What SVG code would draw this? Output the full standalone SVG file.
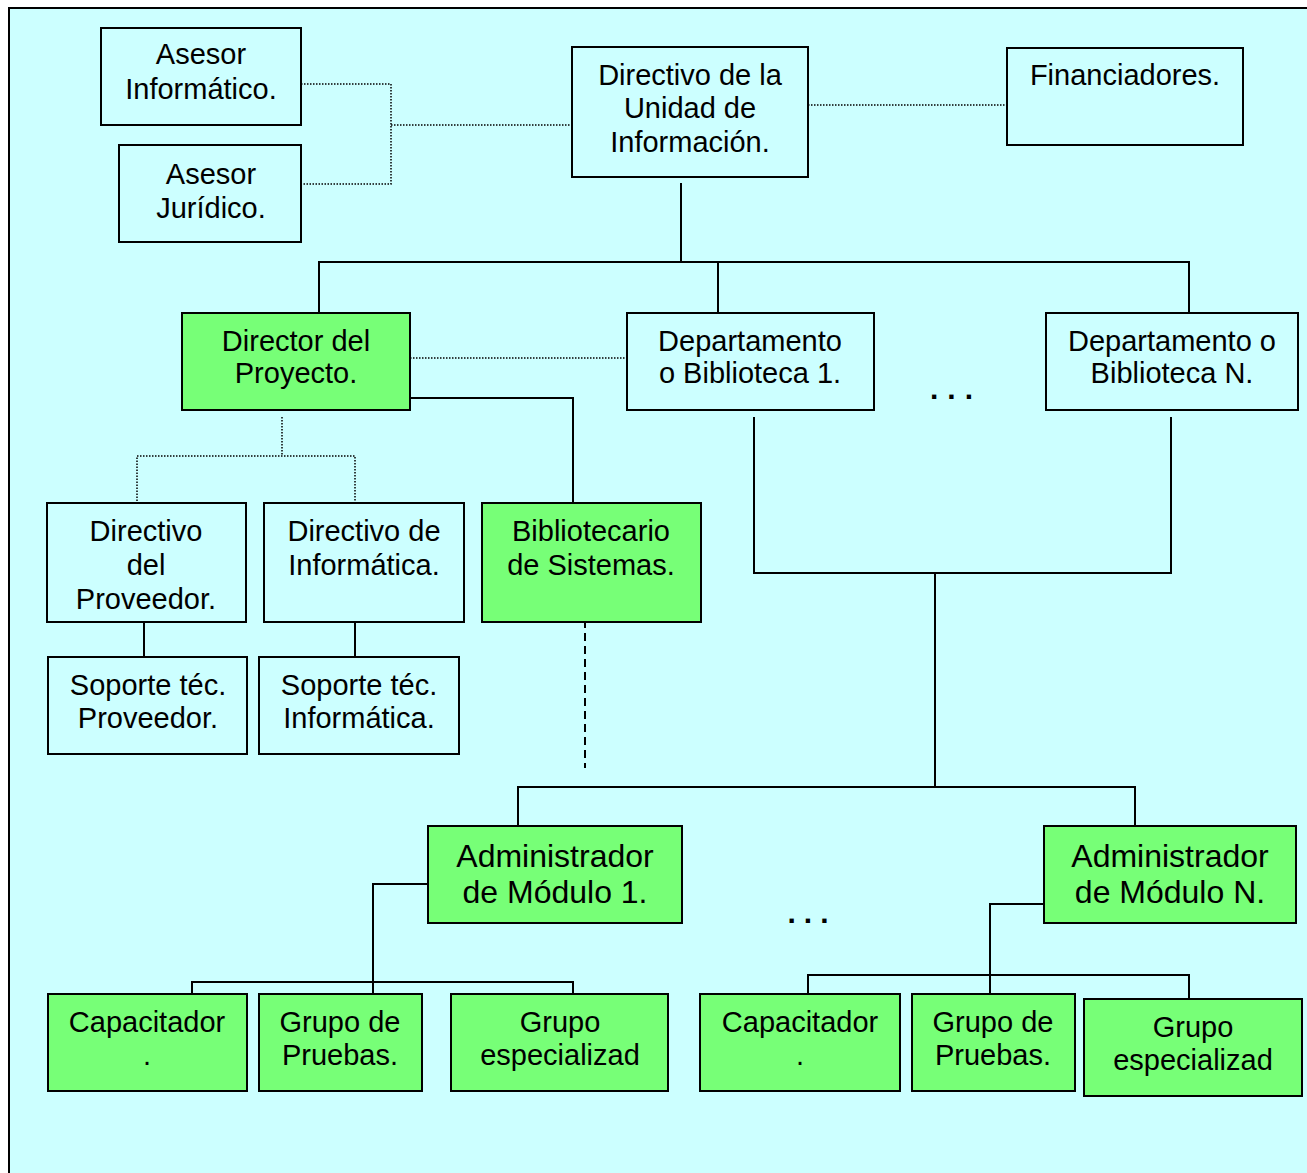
<svg xmlns="http://www.w3.org/2000/svg" width="1307" height="1173" viewBox="0 0 1307 1173">
  <style>
    .box { fill: #CCFFFF; stroke: #000; stroke-width: 2; }
    .green { fill: #77FF77; stroke: #000; stroke-width: 2; }
    .t { font-family: "Liberation Sans", Arial, sans-serif; font-size: 29px; fill: #000; text-anchor: middle; }
    .big { font-size: 32px; }
    .ell { font-size: 30px; font-weight: bold; }
    .solid { fill: none; stroke: #000; stroke-width: 2; }
    .dot { fill: none; stroke: #000; stroke-width: 1.5; stroke-dasharray: 1.5 1.5; }
    .dash { fill: none; stroke: #000; stroke-width: 2; stroke-dasharray: 8 5; }
  </style>

  <rect x="0" y="0" width="1307" height="1173" fill="#FFFFFF"/>
  <rect x="9" y="8" width="1310" height="1180" fill="#CCFFFF" stroke="#000" stroke-width="2"/>

  <!-- connectors -->
  <g id="connectors">
    <!-- advisors to unit directive -->
    <path class="dot" d="M301 84 H391 V184 H302"/>
    <path class="dot" d="M391 125 H572"/>
    <path class="dot" d="M808 105 H1007"/>
    <!-- unit directive down to the three branches -->
    <path class="solid" d="M681 183 V262"/>
    <path class="solid" d="M319 320 V262 H1189 V320"/>
    <path class="solid" d="M718 262 V320"/>
    <!-- project director links -->
    <path class="dot" d="M410 358 H627"/>
    <path class="solid" d="M410 398 H573 V515"/>
    <path class="dot" d="M282 417 V456"/>
    <path class="dot" d="M137 513 V456 H355 V513"/>
    <path class="solid" d="M144 619 V658"/>
    <path class="solid" d="M355 619 V658"/>
    <path class="dash" d="M585 620 V768"/>
    <!-- departments to module administrators -->
    <path class="solid" d="M754 417 V573 H1171 V417"/>
    <path class="solid" d="M935 573 V787"/>
    <path class="solid" d="M518 845 V787 H1135 V826"/>
    <!-- module 1 team -->
    <path class="solid" d="M428 884 H373 V994"/>
    <path class="solid" d="M192 1015 V982 H573 V994"/>
    <!-- module N team -->
    <path class="solid" d="M1044 904 H990 V1018"/>
    <path class="solid" d="M808 1012 V975 H1189 V999"/>
  </g>

  <g id="asesor-informatico">
    <rect class="box" x="101" y="28" width="200" height="97"/>
    <text class="t" x="201" y="64">Asesor</text>
    <text class="t" x="201" y="99">Informático.</text>
  </g>
  <g id="asesor-juridico">
    <rect class="box" x="119" y="145" width="182" height="97"/>
    <text class="t" x="211" y="184">Asesor</text>
    <text class="t" x="211" y="218">Jurídico.</text>
  </g>
  <g id="directivo-unidad">
    <rect class="box" x="572" y="47" width="236" height="130"/>
    <text class="t" x="690" y="85">Directivo de la</text>
    <text class="t" x="690" y="118">Unidad de</text>
    <text class="t" x="690" y="152">Información.</text>
  </g>
  <g id="financiadores">
    <rect class="box" x="1007" y="48" width="236" height="97"/>
    <text class="t" x="1125" y="85">Financiadores.</text>
  </g>
  <g id="director-proyecto">
    <rect class="green" x="182" y="313" width="228" height="97"/>
    <text class="t" x="296" y="351">Director del</text>
    <text class="t" x="296" y="383">Proyecto.</text>
  </g>
  <g id="departamento-1">
    <rect class="box" x="627" y="313" width="247" height="97"/>
    <text class="t" x="750" y="351">Departamento</text>
    <text class="t" x="750" y="383">o Biblioteca 1.</text>
  </g>
  <g id="departamento-n">
    <rect class="box" x="1046" y="313" width="252" height="97"/>
    <text class="t" x="1172" y="351">Departamento o</text>
    <text class="t" x="1172" y="383">Biblioteca N.</text>
  </g>
  <text class="t ell" x="956" y="399" letter-spacing="9">...</text>

  <g id="directivo-proveedor">
    <rect class="box" x="47" y="503" width="199" height="119"/>
    <text class="t" x="146" y="541">Directivo</text>
    <text class="t" x="146" y="575">del</text>
    <text class="t" x="146" y="609">Proveedor.</text>
  </g>
  <g id="directivo-informatica">
    <rect class="box" x="264" y="503" width="200" height="119"/>
    <text class="t" x="364" y="541">Directivo de</text>
    <text class="t" x="364" y="575">Informática.</text>
  </g>
  <g id="bibliotecario-sistemas">
    <rect class="green" x="482" y="503" width="219" height="119"/>
    <text class="t" x="591" y="541">Bibliotecario</text>
    <text class="t" x="591" y="575">de Sistemas.</text>
  </g>
  <g id="soporte-proveedor">
    <rect class="box" x="48" y="657" width="199" height="97"/>
    <text class="t" x="148" y="695">Soporte téc.</text>
    <text class="t" x="148" y="728">Proveedor.</text>
  </g>
  <g id="soporte-informatica">
    <rect class="box" x="259" y="657" width="200" height="97"/>
    <text class="t" x="359" y="695">Soporte téc.</text>
    <text class="t" x="359" y="728">Informática.</text>
  </g>

  <g id="admin-modulo-1">
    <rect class="green" x="428" y="826" width="254" height="97"/>
    <text class="t big" x="555" y="867">Administrador</text>
    <text class="t big" x="555" y="903">de Módulo 1.</text>
  </g>
  <g id="admin-modulo-n">
    <rect class="green" x="1044" y="826" width="252" height="97"/>
    <text class="t big" x="1170" y="867">Administrador</text>
    <text class="t big" x="1170" y="903">de Módulo N.</text>
  </g>
  <text class="t ell" x="812" y="923" letter-spacing="8">...</text>

  <g id="capacitador-1">
    <rect class="green" x="48" y="994" width="199" height="97"/>
    <text class="t" x="147" y="1032">Capacitador</text>
    <text class="t" x="147" y="1065">.</text>
  </g>
  <g id="pruebas-1">
    <rect class="green" x="259" y="994" width="163" height="97"/>
    <text class="t" x="340" y="1032">Grupo de</text>
    <text class="t" x="340" y="1065">Pruebas.</text>
  </g>
  <g id="especializado-1">
    <rect class="green" x="451" y="994" width="217" height="97"/>
    <text class="t" x="560" y="1032">Grupo</text>
    <text class="t" x="560" y="1065">especializad</text>
  </g>
  <g id="capacitador-n">
    <rect class="green" x="700" y="994" width="200" height="97"/>
    <text class="t" x="800" y="1032">Capacitador</text>
    <text class="t" x="800" y="1065">.</text>
  </g>
  <g id="pruebas-n">
    <rect class="green" x="912" y="994" width="163" height="97"/>
    <text class="t" x="993" y="1032">Grupo de</text>
    <text class="t" x="993" y="1065">Pruebas.</text>
  </g>
  <g id="especializado-n">
    <rect class="green" x="1084" y="999" width="218" height="97"/>
    <text class="t" x="1193" y="1037">Grupo</text>
    <text class="t" x="1193" y="1070">especializad</text>
  </g>
</svg>
